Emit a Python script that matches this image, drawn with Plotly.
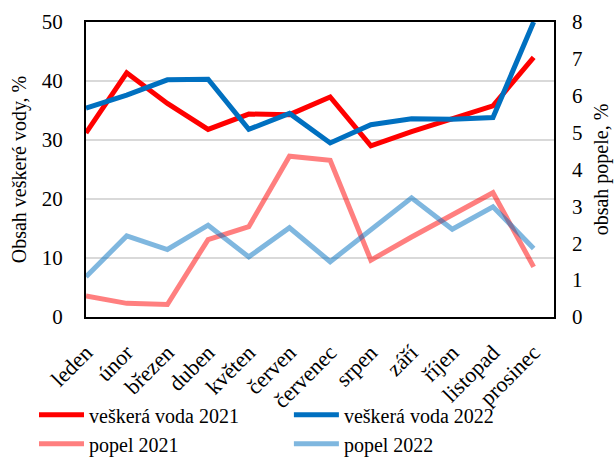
import plotly.graph_objects as go

months = ["leden", "únor", "březen", "duben", "květen", "červen", "červenec",
          "srpen", "září", "říjen", "listopad", "prosinec"]
voda_2021 = [31.2, 41.4, 36.2, 31.8, 34.4, 34.3, 37.3, 29.0, 31.4, 33.7, 35.8, 44.0]
voda_2022 = [35.4, 37.6, 40.2, 40.3, 31.8, 34.5, 29.5, 32.6, 33.6, 33.5, 33.8, 50.0]
popel_2021 = [0.57, 0.37, 0.34, 2.10, 2.45, 4.36, 4.25, 1.54, 2.17, 2.76, 3.37, 1.36]
popel_2022 = [1.09, 2.20, 1.83, 2.49, 1.63, 2.42, 1.50, 2.36, 3.23, 2.38, 2.99, 1.86]

FONT = "Liberation Serif"

fig = go.Figure()
fig.add_trace(go.Scatter(x=months, y=voda_2021, name="veškerá voda 2021", mode="lines",
                         line=dict(color="#FF0000", width=5), legend="legend"))
fig.add_trace(go.Scatter(x=months, y=voda_2022, name="veškerá voda 2022", mode="lines",
                         line=dict(color="#0070C0", width=5), legend="legend2"))
fig.add_trace(go.Scatter(x=months, y=popel_2021, name="popel 2021", mode="lines", yaxis="y2",
                         line=dict(color="rgba(255,0,0,0.5)", width=5), legend="legend"))
fig.add_trace(go.Scatter(x=months, y=popel_2022, name="popel 2022", mode="lines", yaxis="y2",
                         line=dict(color="rgba(0,112,192,0.5)", width=5), legend="legend2"))

legend_common = dict(orientation="h", xref="container", yref="container", y=0.135,
                     xanchor="left", yanchor="top", itemwidth=45, font=dict(size=20),
                     entrywidth=250, entrywidthmode="pixels",
                     tracegroupgap=0, bgcolor="rgba(0,0,0,0)", traceorder="normal")

fig.update_layout(
    width=616, height=457,
    margin=dict(l=86, r=62, t=22, b=140),
    paper_bgcolor="white", plot_bgcolor="white",
    font=dict(family=FONT, size=20, color="black"),
    xaxis=dict(type="category", range=[0, 11.5], showgrid=False,
               showline=True, linecolor="black", linewidth=2, mirror=True,
               ticks="", tickfont=dict(size=22), automargin=False, ticklabelstandoff=12),
    yaxis=dict(range=[0, 50], dtick=10, showgrid=True, gridcolor="#D9D9D9", gridwidth=1.5,
               showline=True, linecolor="black", linewidth=2, mirror=True, ticks="",
               zeroline=False, tickfont=dict(size=21), automargin=False, ticklabelstandoff=17,
               title=dict(text="Obsah veškeré vody, %", font=dict(size=20), standoff=10)),
    yaxis2=dict(range=[0, 8], dtick=1, overlaying="y", side="right", showgrid=False,
                zeroline=False, ticks="", tickfont=dict(size=21), automargin=False,
                ticklabelstandoff=17,
                title=dict(text="obsah popele, %", font=dict(size=20), standoff=11)),
    showlegend=True,
    legend=dict(x=0.0552, **legend_common),
    legend2=dict(x=0.469, **legend_common),
)
fig.update_xaxes(tickangle=-45)

fig.write_html("out.html", config={"displayModeBar": False},
               post_script="document.body.style.margin='0';document.body.style.padding='0';")
